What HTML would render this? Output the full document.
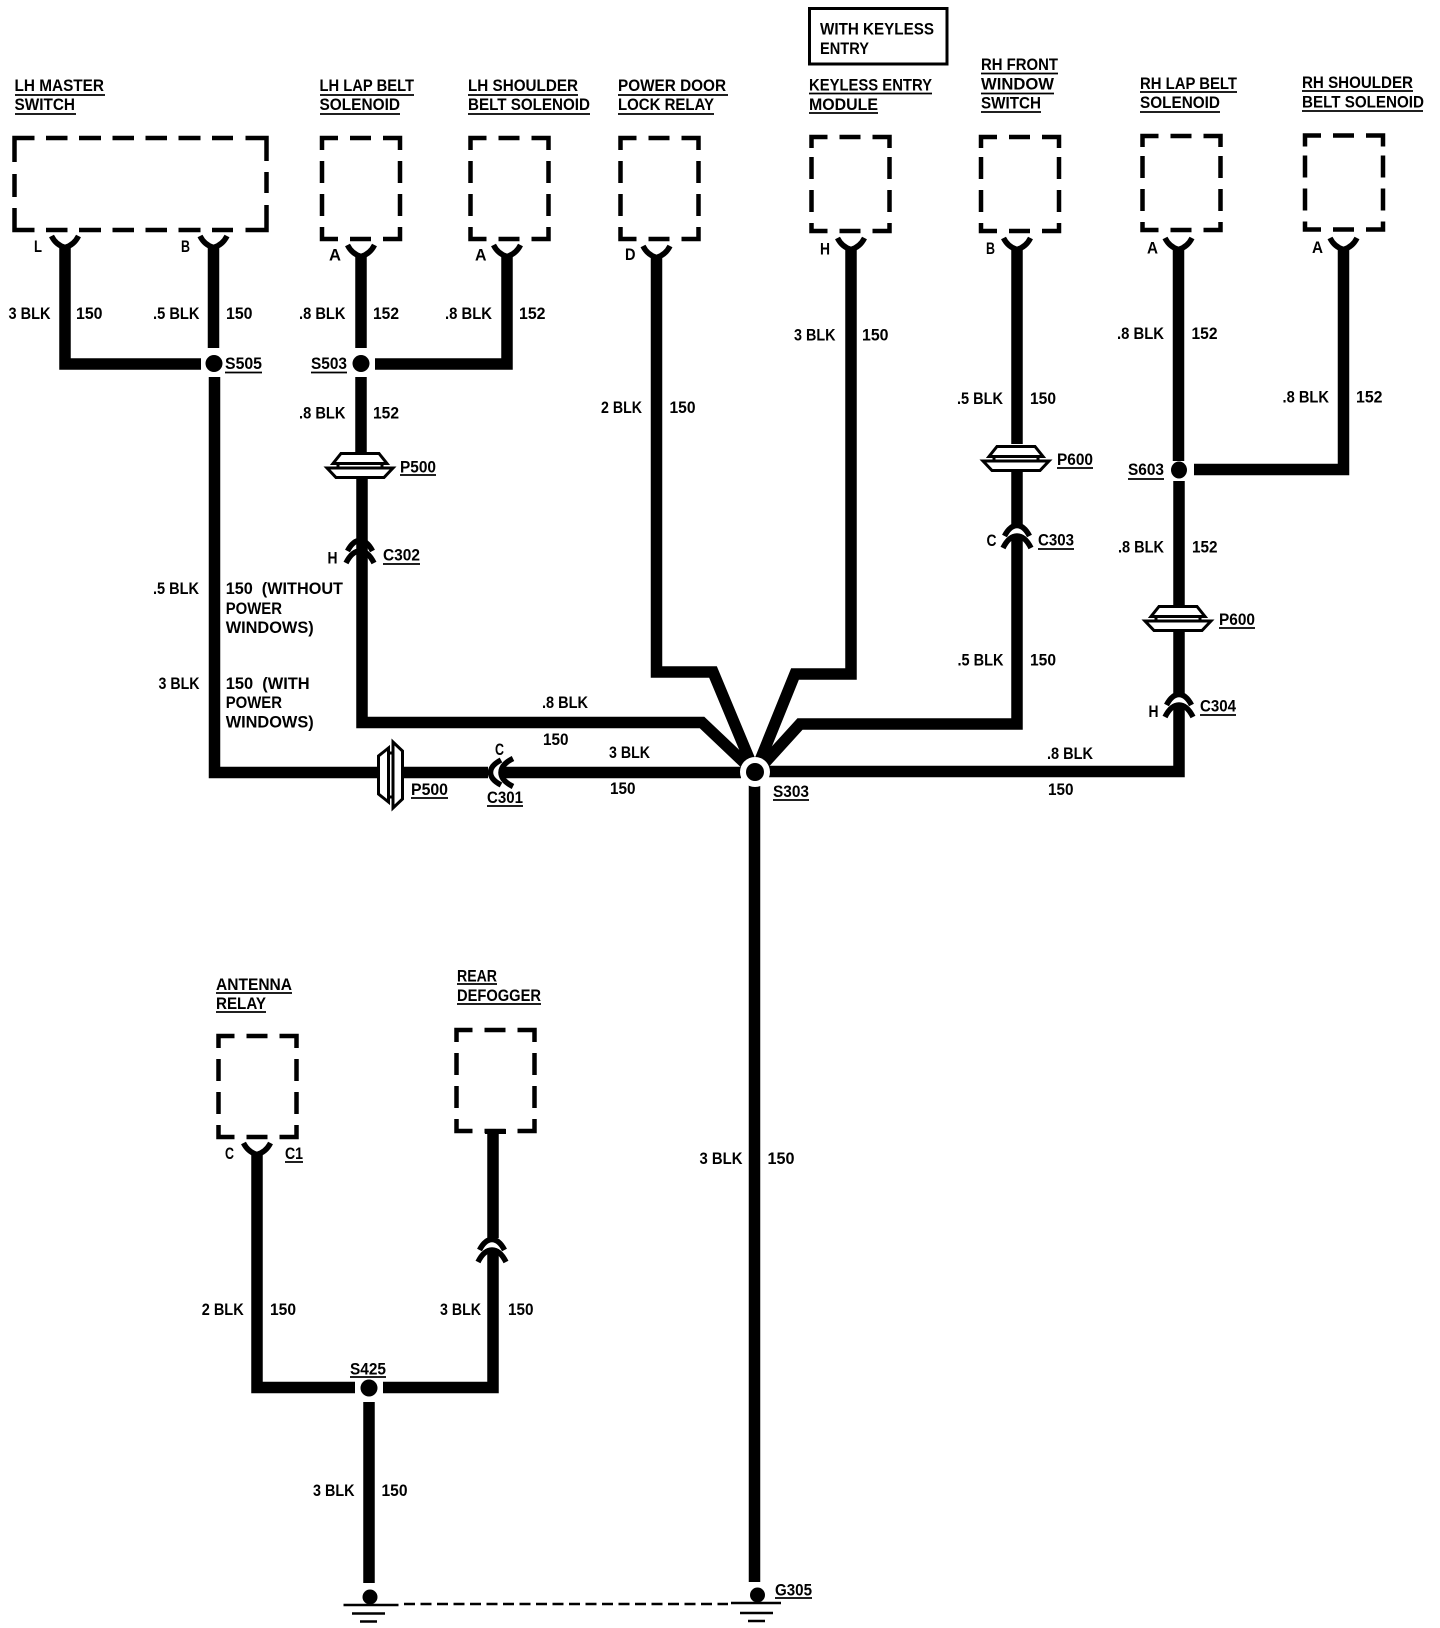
<!DOCTYPE html>
<html><head><meta charset="utf-8"><style>
html,body{margin:0;padding:0;background:#fff}
svg{display:block}
text{font-family:"Liberation Sans",sans-serif;font-weight:bold;font-size:16.5px;fill:#000}
.w{fill:none;stroke:#000;stroke-width:11.5;stroke-linejoin:miter;stroke-miterlimit:10}
.d{fill:none;stroke:#000;stroke-width:4.5}
.u{stroke:#000;stroke-width:1.8}
.p{fill:#fff;stroke:#000;stroke-width:3}
.c{fill:none;stroke:#000;stroke-width:5.500}
.g{stroke:#000;stroke-width:2.6}
</style></head><body>
<svg xmlns="http://www.w3.org/2000/svg" width="1440" height="1628" viewBox="0 0 1440 1628">
<defs>
<path id="bt" class="d" d="M2,14V2H18M30,2H51M63,2H80V14M2,25V47M2,58V80M80,25V47M80,58V80M2,91V103H18M30,103H51M63,103H80V91"/>
<path id="bs" class="d" d="M2,13V2H18M30,2H51M63,2H80V13M2,22V44M2,55V77M80,22V44M80,55V77M2,88V96H18M30,96H51M63,96H80V88"/>
<path id="f" class="c" d="M-13.500,0Q-9,9 0,11.500Q9,9 13.500,0"/>
<path id="a" class="c" d="M-12.500,13Q-7,2.500 0,2.500Q7,2.500 12.500,13M-14,25Q-8,13 0,13Q8,13 14,25"/>
<g id="pt"><path class="p" d="M-19,1.500H19L27,11.500H-27Z"/><path class="p" d="M-22,11.500H22V16H-22Z"/><path class="p" d="M-33,16H33L24,25.500H-24Z"/></g>
</defs>

<!-- boxes -->
<path class="d" d="M14.500,162V138H34.500M46,138H67.500M79,138H101M112.500,138H134M145.500,138H167M178.500,138H200.500M212,138H233M245.500,138H266.500V161M14.500,174V197M266.500,172V193M14.500,208V230H34.500M46,230H67.500M79,230H101M112.500,230H134M145.500,230H167M178.500,230H200.500M212,230H233M245.500,230H266.500V205"/>
<use href="#bt" x="320" y="136"/><use href="#bt" x="468.500" y="136"/><use href="#bt" x="618.500" y="136"/>
<use href="#bs" x="809.500" y="135"/><use href="#bs" x="979" y="135"/><use href="#bs" x="1140.500" y="134"/><use href="#bs" x="1303" y="133.500"/>
<use href="#bt" x="216.500" y="1034"/><use href="#bt" x="454.500" y="1028"/>
<rect x="809.500" y="8.500" width="137.500" height="55.500" fill="none" stroke="#000" stroke-width="3"/>

<!-- wires -->
<path class="w" d="M65,248V364H201"/>
<path class="w" d="M213.500,248V348"/>
<path class="w" d="M214.500,377V772.500H377M403,772.500H488M501,772.500H741"/>
<path class="w" d="M361,257V348"/>
<path class="w" d="M507,257V364H375"/>
<path class="w" d="M361,377V452M362,478V553"/>
<path class="w" d="M362,551V722.500H702L750,768"/>
<path class="w" d="M656.500,258V672H713L753,768"/>
<path class="w" d="M851,250V674H795L757,768"/>
<path class="w" d="M1017,250V444M1017,472V525"/>
<path class="w" d="M1017,537V724H800L760,768"/>
<path class="w" d="M1178.500,250V461M1179,481V605M1179,632V695"/>
<path class="w" d="M1179,705V771.500H755"/>
<path class="w" d="M1343.500,250V469.500H1194"/>
<path class="w" d="M754.500,783V1582"/>
<path class="w" d="M257,1155V1387.500H355"/>
<path class="w" d="M493,1133V1238M493,1249V1387.500H383"/>
<path class="w" d="M369,1402V1583"/>
<path d="M485,1131.500H506" stroke="#000" stroke-width="5"/>

<!-- forks -->
<use href="#f" x="65" y="236"/><use href="#f" x="213.500" y="236"/><use href="#f" x="361" y="245"/><use href="#f" x="507" y="245"/><use href="#f" x="656.500" y="246"/>
<use href="#f" x="851" y="238"/><use href="#f" x="1017" y="238"/><use href="#f" x="1178.500" y="238"/><use href="#f" x="1343.500" y="238"/><use href="#f" x="257" y="1143"/>

<!-- inline connectors -->
<use href="#a" x="360" y="538"/><use href="#a" x="1017" y="523"/><use href="#a" x="1179" y="692"/><use href="#a" x="492" y="1237"/>
<g transform="translate(488,772.500) rotate(-90)"><use href="#a"/></g>
<use href="#pt" x="360" y="452"/><use href="#pt" x="1016" y="445"/><use href="#pt" x="1178" y="605"/>
<g transform="translate(377,775) rotate(-90)"><use href="#pt"/></g>

<!-- splices -->
<circle cx="755" cy="772" r="15" fill="#fff"/><circle cx="755" cy="772" r="9"/>
<ellipse cx="214" cy="363.500" rx="8.500" ry="8.500"/><ellipse cx="361" cy="363.500" rx="8.500" ry="8.500"/><ellipse cx="1179" cy="470" rx="8" ry="8.500"/>
<circle cx="369" cy="1388" r="8.500"/>

<!-- grounds -->
<circle cx="370" cy="1597" r="7.500"/><circle cx="757.500" cy="1595" r="7.500"/>
<path class="g" d="M343.500,1605H398.500M352,1613.500H385M360,1621.500H377M731,1603H781M740,1613H773M748,1621H765"/>
<path d="M404,1604H728" stroke="#000" stroke-width="2.500" stroke-dasharray="11 5.500" fill="none"/>

<!-- underlines -->
<path class="u" d="M15,95H105M15,114H76M320,95H414M320,114H400M468,95H578M468,114H590M618,95H728M618,114H714M809,93.500H932M809,113H878M981,73.500H1058M981,93.500H1054M981,112H1041M1140,92H1237M1140,112H1220M1302,91H1413M1302,111H1423M225,372.500H262M311,372.500H347M400,475H436M383,564H420M411,798H448M487,806H523M773,800H809M1057,468H1093M1128,479H1164M1038,549H1074M1219,628H1255M1200,715H1236M216,993H292M216,1012H266M457,984H497M457,1004H541M285,1162H303M350,1377H386M775,1598H812"/>

<!-- header labels -->
<text x="14.500" y="91" textLength="89.500" lengthAdjust="spacingAndGlyphs">LH MASTER</text>
<text x="14.500" y="110" textLength="60.500" lengthAdjust="spacingAndGlyphs">SWITCH</text>
<text x="319.500" y="91" textLength="94.500" lengthAdjust="spacingAndGlyphs">LH LAP BELT</text>
<text x="319.500" y="110" textLength="80.500" lengthAdjust="spacingAndGlyphs">SOLENOID</text>
<text x="468" y="91" textLength="110" lengthAdjust="spacingAndGlyphs">LH SHOULDER</text>
<text x="468" y="110" textLength="122" lengthAdjust="spacingAndGlyphs">BELT SOLENOID</text>
<text x="618" y="91" textLength="108" lengthAdjust="spacingAndGlyphs">POWER DOOR</text>
<text x="618" y="110" textLength="96" lengthAdjust="spacingAndGlyphs">LOCK RELAY</text>
<text x="820" y="34.700" textLength="114" lengthAdjust="spacingAndGlyphs">WITH KEYLESS</text>
<text x="820" y="54" textLength="49" lengthAdjust="spacingAndGlyphs">ENTRY</text>
<text x="809" y="90.700" textLength="123" lengthAdjust="spacingAndGlyphs">KEYLESS ENTRY</text>
<text x="809" y="110" textLength="69" lengthAdjust="spacingAndGlyphs">MODULE</text>
<text x="981" y="70" textLength="77" lengthAdjust="spacingAndGlyphs">RH FRONT</text>
<text x="981" y="89.500" textLength="73" lengthAdjust="spacingAndGlyphs">WINDOW</text>
<text x="981" y="108.700" textLength="60" lengthAdjust="spacingAndGlyphs">SWITCH</text>
<text x="1140" y="89" textLength="97" lengthAdjust="spacingAndGlyphs">RH LAP BELT</text>
<text x="1140" y="108" textLength="80" lengthAdjust="spacingAndGlyphs">SOLENOID</text>
<text x="1302" y="88" textLength="111" lengthAdjust="spacingAndGlyphs">RH SHOULDER</text>
<text x="1302" y="107.500" textLength="122" lengthAdjust="spacingAndGlyphs">BELT SOLENOID</text>
<text x="216" y="990" textLength="76" lengthAdjust="spacingAndGlyphs">ANTENNA</text>
<text x="216" y="1009" textLength="50" lengthAdjust="spacingAndGlyphs">RELAY</text>
<text x="457" y="981.700" textLength="40" lengthAdjust="spacingAndGlyphs">REAR</text>
<text x="457" y="1001" textLength="84" lengthAdjust="spacingAndGlyphs">DEFOGGER</text>

<!-- pin labels -->
<text x="34" y="252" textLength="8" lengthAdjust="spacingAndGlyphs">L</text>
<text x="181" y="252" textLength="9" lengthAdjust="spacingAndGlyphs">B</text>
<text x="329" y="260.700" textLength="12" lengthAdjust="spacingAndGlyphs">A</text>
<text x="475" y="260.700" textLength="11.500" lengthAdjust="spacingAndGlyphs">A</text>
<text x="625" y="260" textLength="10.500" lengthAdjust="spacingAndGlyphs">D</text>
<text x="820" y="254.500" textLength="10" lengthAdjust="spacingAndGlyphs">H</text>
<text x="986" y="254" textLength="9" lengthAdjust="spacingAndGlyphs">B</text>
<text x="1147" y="253.500" textLength="11" lengthAdjust="spacingAndGlyphs">A</text>
<text x="1312" y="253" textLength="11" lengthAdjust="spacingAndGlyphs">A</text>
<text x="327.500" y="563.300" textLength="10" lengthAdjust="spacingAndGlyphs">H</text>
<text x="495" y="755" textLength="9" lengthAdjust="spacingAndGlyphs">C</text>
<text x="986.500" y="546" textLength="10" lengthAdjust="spacingAndGlyphs">C</text>
<text x="1148.500" y="717" textLength="10" lengthAdjust="spacingAndGlyphs">H</text>
<text x="225" y="1159" textLength="9" lengthAdjust="spacingAndGlyphs">C</text>
<text x="285" y="1159" textLength="18" lengthAdjust="spacingAndGlyphs">C1</text>

<!-- component ids -->
<text x="225" y="369" textLength="37" lengthAdjust="spacingAndGlyphs">S505</text>
<text x="311" y="369" textLength="36" lengthAdjust="spacingAndGlyphs">S503</text>
<text x="400" y="472.700" textLength="36" lengthAdjust="spacingAndGlyphs">P500</text>
<text x="383" y="560.700" textLength="37" lengthAdjust="spacingAndGlyphs">C302</text>
<text x="411" y="795" textLength="37" lengthAdjust="spacingAndGlyphs">P500</text>
<text x="487" y="803" textLength="36" lengthAdjust="spacingAndGlyphs">C301</text>
<text x="773" y="797" textLength="36" lengthAdjust="spacingAndGlyphs">S303</text>
<text x="1057" y="465" textLength="36" lengthAdjust="spacingAndGlyphs">P600</text>
<text x="1128" y="475" textLength="36" lengthAdjust="spacingAndGlyphs">S603</text>
<text x="1038" y="545.700" textLength="36" lengthAdjust="spacingAndGlyphs">C303</text>
<text x="1219" y="625" textLength="36" lengthAdjust="spacingAndGlyphs">P600</text>
<text x="1200" y="711.700" textLength="36" lengthAdjust="spacingAndGlyphs">C304</text>
<text x="350" y="1374.300" textLength="36" lengthAdjust="spacingAndGlyphs">S425</text>
<text x="775" y="1595.500" textLength="37" lengthAdjust="spacingAndGlyphs">G305</text>

<!-- wire labels -->
<text x="8.500" y="319" textLength="42" lengthAdjust="spacingAndGlyphs">3 BLK</text>
<text x="76" y="319" textLength="26.500" lengthAdjust="spacingAndGlyphs">150</text>
<text x="153" y="319" textLength="46.500" lengthAdjust="spacingAndGlyphs">.5 BLK</text>
<text x="226" y="319" textLength="26.500" lengthAdjust="spacingAndGlyphs">150</text>
<text x="299" y="319" textLength="46.500" lengthAdjust="spacingAndGlyphs">.8 BLK</text>
<text x="373" y="319" textLength="26" lengthAdjust="spacingAndGlyphs">152</text>
<text x="445" y="319" textLength="47" lengthAdjust="spacingAndGlyphs">.8 BLK</text>
<text x="519" y="319" textLength="26.500" lengthAdjust="spacingAndGlyphs">152</text>
<text x="299" y="418.500" textLength="46.500" lengthAdjust="spacingAndGlyphs">.8 BLK</text>
<text x="373" y="418.500" textLength="26" lengthAdjust="spacingAndGlyphs">152</text>
<text x="601" y="413" textLength="41" lengthAdjust="spacingAndGlyphs">2 BLK</text>
<text x="669.500" y="413" textLength="26" lengthAdjust="spacingAndGlyphs">150</text>
<text x="794" y="340.700" textLength="41.500" lengthAdjust="spacingAndGlyphs">3 BLK</text>
<text x="862" y="340.700" textLength="26.500" lengthAdjust="spacingAndGlyphs">150</text>
<text x="957" y="404" textLength="46" lengthAdjust="spacingAndGlyphs">.5 BLK</text>
<text x="1030" y="404" textLength="26" lengthAdjust="spacingAndGlyphs">150</text>
<text x="1117" y="339" textLength="47" lengthAdjust="spacingAndGlyphs">.8 BLK</text>
<text x="1191.500" y="339" textLength="26" lengthAdjust="spacingAndGlyphs">152</text>
<text x="1282.500" y="402.700" textLength="46.500" lengthAdjust="spacingAndGlyphs">.8 BLK</text>
<text x="1356" y="402.700" textLength="26.500" lengthAdjust="spacingAndGlyphs">152</text>
<text x="153" y="594" textLength="46" lengthAdjust="spacingAndGlyphs">.5 BLK</text>
<text x="225.700" y="594" textLength="117.300" lengthAdjust="spacingAndGlyphs" xml:space="preserve">150  (WITHOUT</text>
<text x="225.700" y="614" textLength="56.300" lengthAdjust="spacingAndGlyphs">POWER</text>
<text x="225.700" y="633" textLength="88" lengthAdjust="spacingAndGlyphs">WINDOWS)</text>
<text x="158.500" y="689" textLength="41" lengthAdjust="spacingAndGlyphs">3 BLK</text>
<text x="225.700" y="689" textLength="84" lengthAdjust="spacingAndGlyphs" xml:space="preserve">150  (WITH</text>
<text x="225.700" y="708" textLength="56.300" lengthAdjust="spacingAndGlyphs">POWER</text>
<text x="225.700" y="727.700" textLength="88" lengthAdjust="spacingAndGlyphs">WINDOWS)</text>
<text x="542" y="708" textLength="46" lengthAdjust="spacingAndGlyphs">.8 BLK</text>
<text x="543" y="745" textLength="25.500" lengthAdjust="spacingAndGlyphs">150</text>
<text x="609" y="758" textLength="41" lengthAdjust="spacingAndGlyphs">3 BLK</text>
<text x="610" y="794" textLength="25.500" lengthAdjust="spacingAndGlyphs">150</text>
<text x="1118" y="552.700" textLength="46" lengthAdjust="spacingAndGlyphs">.8 BLK</text>
<text x="1192" y="552.700" textLength="25.500" lengthAdjust="spacingAndGlyphs">152</text>
<text x="957.500" y="665.700" textLength="46" lengthAdjust="spacingAndGlyphs">.5 BLK</text>
<text x="1030" y="665.700" textLength="26" lengthAdjust="spacingAndGlyphs">150</text>
<text x="1047" y="759" textLength="46" lengthAdjust="spacingAndGlyphs">.8 BLK</text>
<text x="1048" y="795" textLength="25.500" lengthAdjust="spacingAndGlyphs">150</text>
<text x="699.500" y="1164" textLength="43" lengthAdjust="spacingAndGlyphs">3 BLK</text>
<text x="767.500" y="1164" textLength="27" lengthAdjust="spacingAndGlyphs">150</text>
<text x="201.700" y="1315" textLength="42" lengthAdjust="spacingAndGlyphs">2 BLK</text>
<text x="270" y="1315" textLength="26" lengthAdjust="spacingAndGlyphs">150</text>
<text x="440" y="1315" textLength="41" lengthAdjust="spacingAndGlyphs">3 BLK</text>
<text x="508" y="1315" textLength="25.500" lengthAdjust="spacingAndGlyphs">150</text>
<text x="313" y="1496" textLength="41.500" lengthAdjust="spacingAndGlyphs">3 BLK</text>
<text x="381.500" y="1496" textLength="26" lengthAdjust="spacingAndGlyphs">150</text>
</svg>
</body></html>
